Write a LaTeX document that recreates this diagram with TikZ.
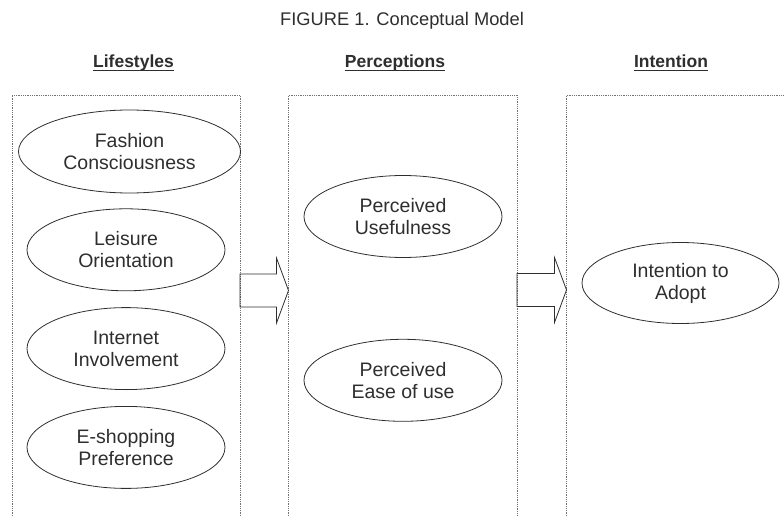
\documentclass[tikz,border=0pt]{standalone}
\usepackage{fontspec}
\setmainfont{Liberation Sans}
\usetikzlibrary{shapes.geometric}
\usetikzlibrary{calc}
\usetikzlibrary{positioning}

\definecolor{ink}{gray}{0.18}
\definecolor{dots}{gray}{0.45}

\newcommand{\twolines}[2]{#1\\#2}
\newcommand{\blockarrow}[2]{%
    \draw[blockarr] ($(#1)+(0,-16.5)$) -- ($(#2)+(-12,-16.5)$)
        -- ($(#2)+(-12,-32.5)$) -- (#2) -- ($(#2)+(-12,32.5)$)
        -- ($(#2)+(-12,16.5)$) -- ($(#1)+(0,16.5)$) -- cycle;%
}

\begin{document}
\begin{tikzpicture}[x=1pt, y=-1pt,
                    every node/.style={text=ink},
                    construct/.style={draw=ink, line width=0.8pt, ellipse,
                        inner sep=0pt, align=center,
                        minimum width=198pt, minimum height=82pt,
                        font=\fontsize{19.5}{22}\selectfont},
                    colframe/.style={draw=dots, densely dotted, line width=0.8pt},
                    heading/.style={anchor=base, inner sep=0pt,
                        font=\fontsize{17.5}{20}\selectfont\bfseries},
                    headline/.style={draw=ink, line width=0.9pt},
                    blockarr/.style={draw=ink, line width=0.8pt, line join=miter}]

    \useasboundingbox (0,0) rectangle (784,516);

    \node[anchor=base, inner sep=0pt, font=\fontsize{18.3}{20}\selectfont]
        (title) at (402,26) {FIGURE 1. Conceptual Model};

    \node[heading] (life) at (133.5,68) {Lifestyles};
    \node[heading] (perc) at (395,68) {Perceptions};
    \node[heading] (intn) at (671,68) {Intention};
    \foreach \h in {life, perc, intn}
        \draw[headline] ([yshift=-2pt]\h.base west) -- ([yshift=-2pt]\h.base east);

    \draw[colframe] (12,516) -- (12,95) -- (240,95) -- (240,516);
    \draw[colframe] (288.5,516) -- (288.5,95) -- (517,95) -- (517,516);
    \draw[colframe] (566.5,516) -- (566.5,95) -- (784,95);

    \node[construct, minimum width=222pt, minimum height=83pt] (fash) at (129.5,151.5)
        {\twolines{Fashion}{Consciousness}};
    \node[construct, below=15pt of fash, xshift=-3.5pt] (leis)
        {\twolines{Leisure}{Orientation}};
    \node[construct, below=16pt of leis] (inet)
        {\twolines{Internet}{Involvement}};
    \node[construct, below=16pt of inet] (shop)
        {\twolines{E-shopping}{Preference}};

    \node[construct] (useful) at (403,216.5) {\twolines{Perceived}{Usefulness}};
    \node[construct, below=81pt of useful] (ease) {\twolines{Perceived}{Ease of use}};

    \node[construct, minimum width=197pt, minimum height=81pt] (adopt) at (680.5,283)
        {\twolines{Intention to}{Adopt}};

    \coordinate (lifeout) at (240,290.5);
    \coordinate (percin) at (288.5,290.5);
    \coordinate (percout) at (517,290);
    \coordinate (intnin) at (566.5,290);
    \blockarrow{lifeout}{percin}
    \blockarrow{percout}{intnin}
\end{tikzpicture}
\end{document}
